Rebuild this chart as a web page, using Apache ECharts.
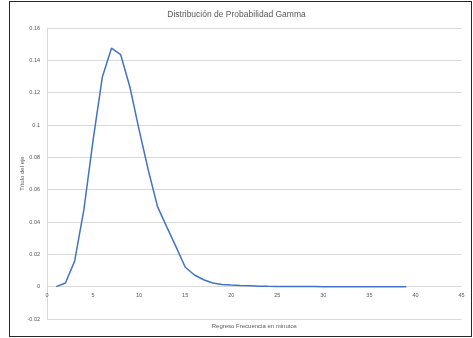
<!DOCTYPE html>
<html>
<head>
<meta charset="utf-8">
<script src="https://cdn.jsdelivr.net/npm/echarts@6/dist/echarts.min.js"></script>
<style>
  html, body { margin: 0; padding: 0; background: #fff; }
  #frame { position: absolute; left: 9px; top: 1px; width: 463px; height: 336px; border: 1.5px solid #262626; box-sizing: border-box; }
  #chart { position: absolute; left: 0; top: 0; width: 473px; height: 338px; }
</style>
</head>
<body>
<div id="frame"></div>
<div id="chart"></div>
<script>
// Minutes between returns (x) and gamma probability density (y)
const minutes = [1, 2, 3, 4, 5, 6, 7, 8, 9, 10, 11, 12, 13, 14, 15, 16, 17, 18, 19, 20,
  21, 22, 23, 24, 25, 26, 27, 28, 29, 30, 31, 32, 33, 34, 35, 36, 37, 38, 39];
const density = [0.0, 0.0023, 0.0158, 0.0475, 0.0905, 0.1295, 0.1475, 0.1435, 0.1235, 0.097,
  0.072, 0.0495, 0.037, 0.0248, 0.0122, 0.0072, 0.0043, 0.0023, 0.0014, 0.001,
  0.0007, 0.0005, 0.0003, 0.0002, 0.00015, 0.0001, 0.00007, 0.00005, 0.00003, 0.00002,
  0.00001, 0.00001, 0.0, 0.0, 0.0, 0.0, 0.0, 0.0, 0.0];
const xTicks = { min: 0, max: 45, step: 5 };
const yTicks = { min: -0.02, max: 0.16, step: 0.02 };

const gridTop = 28, gridBottom = 19, chartHeight = 338;
// the x axis sits on y = 0, one tick step above the bottom of the grid
const zeroLift = (chartHeight - gridTop - gridBottom) * (0 - yTicks.min) / (yTicks.max - yTicks.min);

const chart = echarts.init(document.getElementById('chart'), null, { renderer: 'canvas' });
const labelFont = { color: '#595959', fontFamily: 'Liberation Sans, Arial, sans-serif' };

chart.setOption({
  animation: false,
  title: {
    text: 'Distribución de Probabilidad Gamma',
    left: 'center',
    top: 5,
    textStyle: { ...labelFont, fontSize: 8.5, fontWeight: 'normal' }
  },
  grid: { left: 47, right: 11.5, top: gridTop, bottom: gridBottom, containLabel: false, outerBoundsMode: 'none' },
  xAxis: {
    type: 'value',
    min: xTicks.min, max: xTicks.max, interval: xTicks.step,
    offset: -zeroLift,
    name: 'Regreso Frecuencia en minutos',
    nameLocation: 'middle',
    nameGap: 37,
    nameMoveOverlap: false,
    nameTextStyle: { ...labelFont, fontSize: 6 },
    axisLine: { onZero: false, lineStyle: { color: '#D9D9D9', width: 1 } },
    axisTick: { show: false },
    axisLabel: { ...labelFont, fontSize: 5.5, margin: 6 },
    splitLine: { show: false }
  },
  yAxis: {
    type: 'value',
    min: yTicks.min, max: yTicks.max, interval: yTicks.step,
    name: 'Título del eje',
    nameLocation: 'middle',
    nameGap: 22,
    nameMoveOverlap: false,
    nameTextStyle: { ...labelFont, fontSize: 6 },
    axisLine: { show: true, lineStyle: { color: '#D9D9D9', width: 1 } },
    axisTick: { show: false },
    axisLabel: { ...labelFont, fontSize: 5.5, margin: 7,
      formatter: v => String(Math.round(v * 100) / 100) },
    splitLine: { lineStyle: { color: '#D9D9D9', width: 1 } }
  },
  series: [{
    type: 'line',
    data: minutes.map((m, i) => [m, density[i]]),
    showSymbol: false,
    lineStyle: { color: '#4472C4', width: 1.5 },
    itemStyle: { color: '#4472C4' }
  }]
});
</script>
</body>
</html>
